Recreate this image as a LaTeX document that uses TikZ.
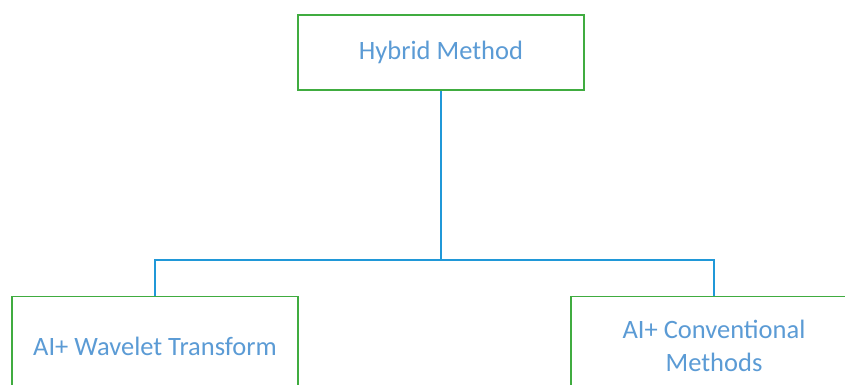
\documentclass[tikz,border=0pt]{standalone}
\usepackage{fontspec}
\setmainfont{Carlito}
\definecolor{boxgreen}{RGB}{64,172,64}
\definecolor{textblue}{RGB}{91,155,213}
\definecolor{linkblue}{RGB}{32,152,216}
\begin{document}
\begin{tikzpicture}[x=1pt,y=-1pt,
  box/.style={draw=boxgreen, line width=1.2pt, fill=white, text=textblue,
    minimum width=286pt, align=center,
    font=\fontsize{26.5}{33}\selectfont},
  link/.style={draw=linkblue, line width=1.2pt}]
\useasboundingbox (0,0) rectangle (845,385);
\node[box, minimum height=75pt] (hybrid) at (441,52.5) {Hybrid Method};
\node[box, minimum height=99pt] (wavelet) at (155,346) {AI+ Wavelet Transform};
\node[box, minimum height=99pt] (conv) at (714,346) {AI+ Conventional\\Methods};
\coordinate (bus) at (441,260);
\draw[link] (hybrid.south) -- (bus) -| (wavelet.north);
\draw[link] (bus) -| (conv.north);
\end{tikzpicture}
\end{document}
